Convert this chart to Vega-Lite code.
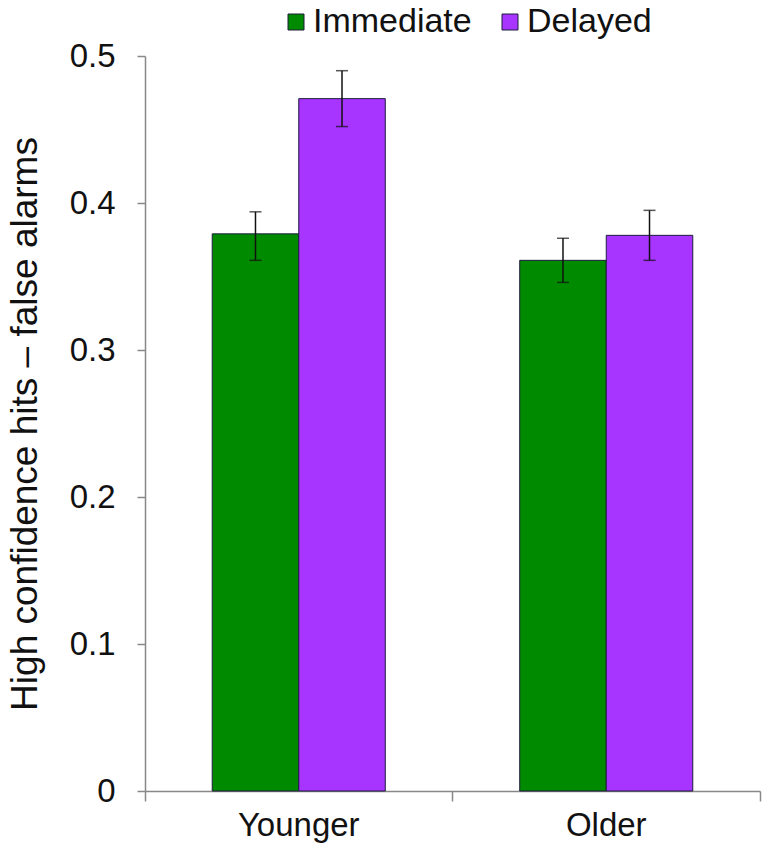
{
  "$schema": "https://vega.github.io/schema/vega-lite/v6.json",
  "width": 615,
  "height": 735,
  "autosize": "none",
  "padding": {"left": 145, "top": 56, "right": 4, "bottom": 62},
  "config": {"view": {"stroke": null}, "font": "Liberation Sans"},
  "data": {
    "values": [
      {"group": "Younger", "cond": "Immediate", "value": 0.379, "lo": 0.361, "hi": 0.394},
      {"group": "Younger", "cond": "Delayed", "value": 0.471, "lo": 0.452, "hi": 0.490},
      {"group": "Older", "cond": "Immediate", "value": 0.361, "lo": 0.346, "hi": 0.376},
      {"group": "Older", "cond": "Delayed", "value": 0.378, "lo": 0.361, "hi": 0.395}
    ]
  },
  "encoding": {
    "x": {
      "field": "group",
      "type": "nominal",
      "sort": ["Younger", "Older"],
      "scale": {"paddingInner": 0, "paddingOuter": 0},
      "axis": {
        "title": null,
        "labelAngle": 0,
        "bandPosition": 1,
        "tickExtra": true,
        "tickSize": 10,
        "domainColor": "#888888",
        "tickColor": "#888888",
        "domainWidth": 1.5,
        "tickWidth": 1.5,
        "labelFontSize": 33,
        "labelColor": "#111111",
        "labelPadding": 8
      }
    },
    "xOffset": {
      "field": "cond",
      "sort": ["Immediate", "Delayed"],
      "scale": {"paddingInner": 0, "paddingOuter": 0.777}
    }
  },
  "layer": [
    {
      "mark": {"type": "bar", "stroke": "#1c1c3c", "strokeWidth": 1},
      "encoding": {
        "y": {
          "field": "value",
          "type": "quantitative",
          "scale": {"domain": [0, 0.5], "nice": false},
          "axis": {
            "values": [0, 0.1, 0.2, 0.3, 0.4, 0.5],
            "labelExpr": "datum.value == 0 ? '0' : format(datum.value, '.1f')",
            "grid": false,
            "domainColor": "#888888",
            "tickColor": "#888888",
            "domainWidth": 1.5,
            "tickWidth": 1.5,
            "tickSize": 8,
            "labelFontSize": 33,
            "labelColor": "#111111",
            "labelPadding": 22,
            "title": "High confidence hits – false alarms",
            "titleFontSize": 37,
            "titleFontWeight": "normal",
            "titleColor": "#111111",
            "titlePadding": 25
          }
        },
        "color": {
          "field": "cond",
          "type": "nominal",
          "sort": ["Immediate", "Delayed"],
          "scale": {"domain": ["Immediate", "Delayed"], "range": ["#008A00", "#A834FF"]},
          "legend": {
            "title": null,
            "orient": "none",
            "direction": "horizontal",
            "legendX": 134,
            "legendY": -51,
            "padding": 0,
            "symbolType": "square",
            "symbolSize": 256,
            "symbolStrokeColor": "#1c1c3c",
            "symbolStrokeWidth": 1,
            "symbolOpacity": 1,
            "labelFontSize": 34,
            "labelColor": "#111111",
            "labelOffset": 0,
            "columnPadding": 21
          }
        }
      }
    },
    {
      "mark": {"type": "rule", "color": "#111111", "strokeWidth": 1.5},
      "encoding": {
        "y": {"field": "lo", "type": "quantitative"},
        "y2": {"field": "hi"}
      }
    },
    {
      "mark": {"type": "tick", "color": "#111111", "thickness": 1.5, "size": 12},
      "encoding": {"y": {"field": "hi", "type": "quantitative"}}
    },
    {
      "mark": {"type": "tick", "color": "#111111", "thickness": 1.5, "size": 12},
      "encoding": {"y": {"field": "lo", "type": "quantitative"}}
    }
  ]
}
